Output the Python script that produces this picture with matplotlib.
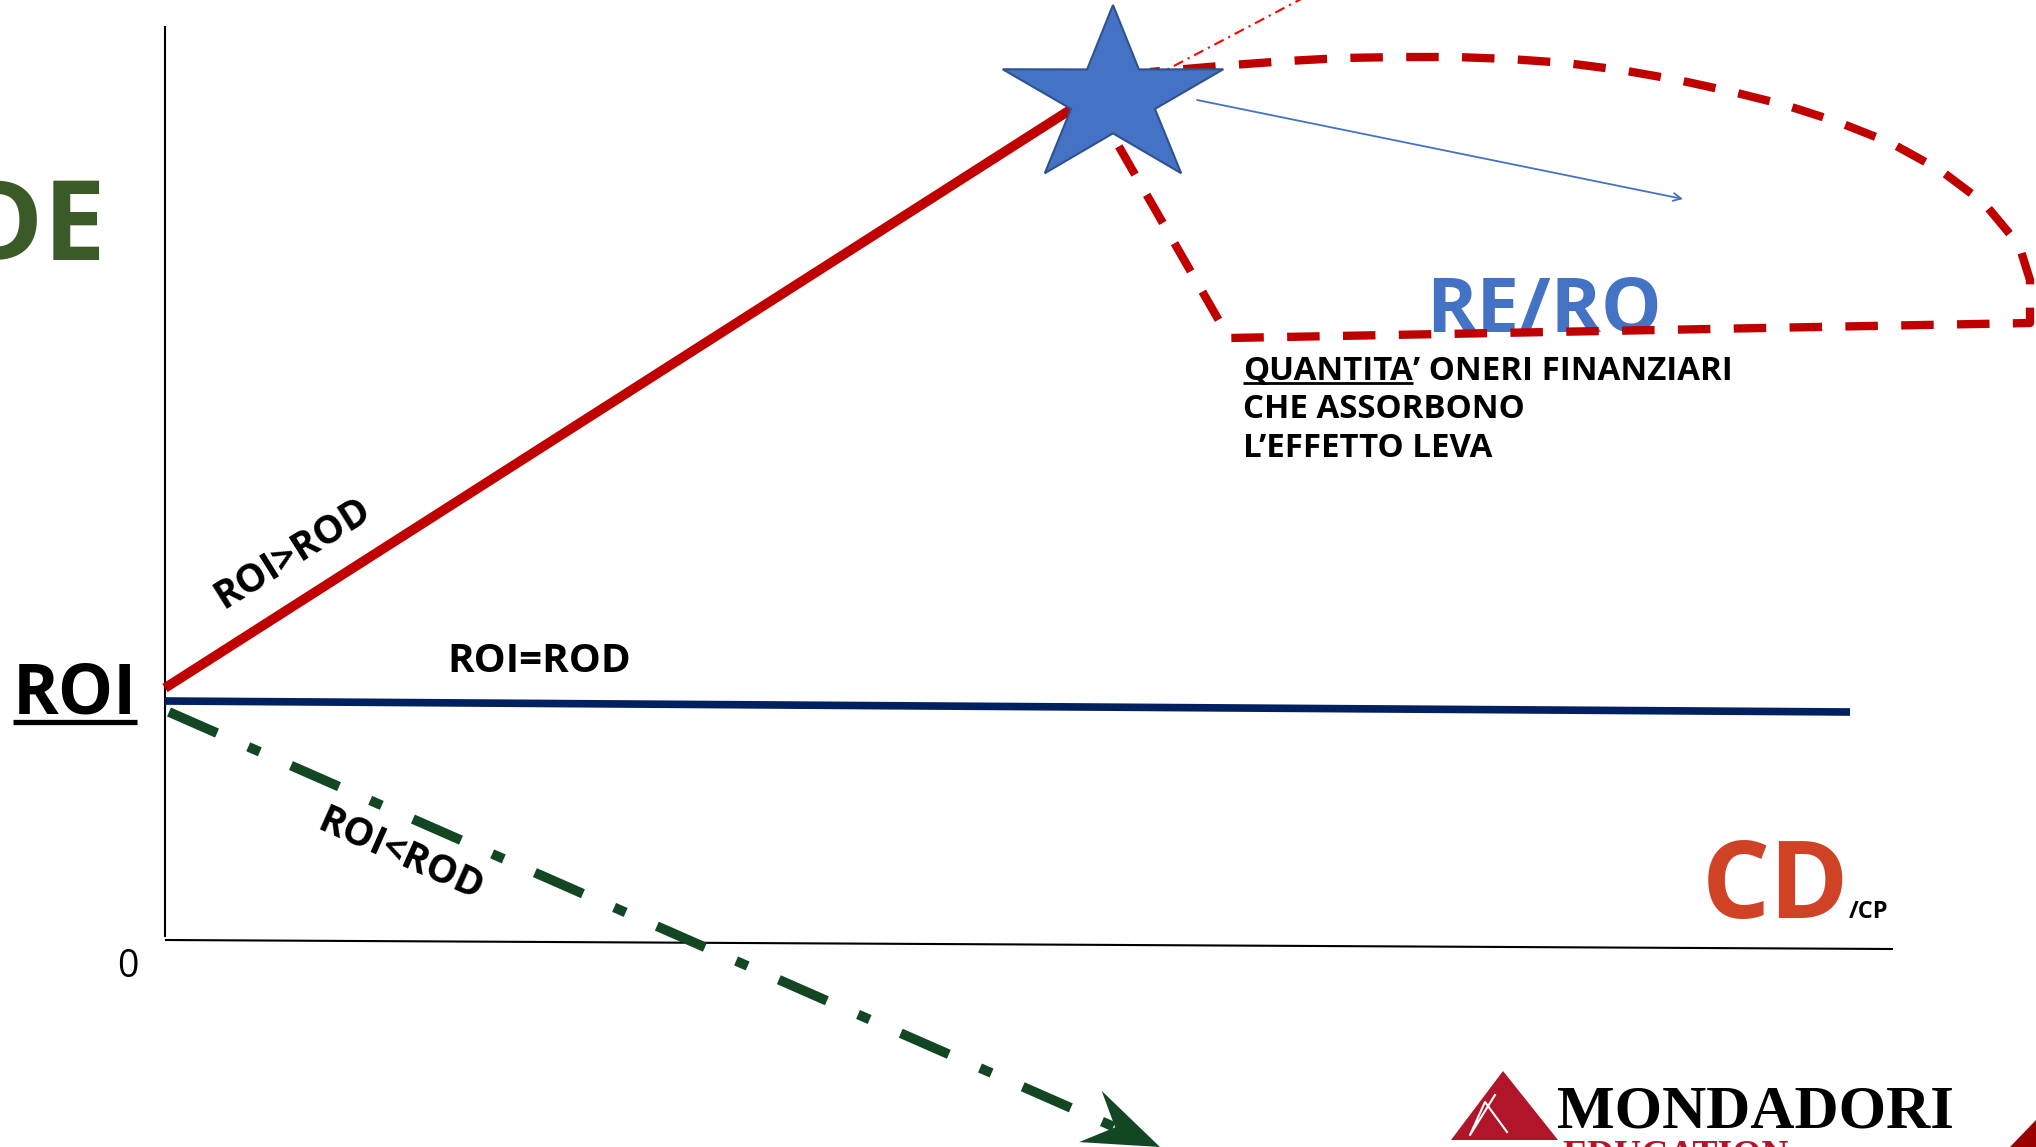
import numpy as np
import matplotlib.pyplot as plt
from matplotlib.patches import Polygon

plt.rcParams['font.family'] = ['Open Sans', 'DejaVu Sans']

# diagram units: x = CD/CP (leverage), y = return; origin where the axes meet
axis_y_x = [0.0, 0.0]
axis_y_y = [9.14, 0.03]
axis_x_x = [0.0, 17.28]
axis_x_y = [0.0, -0.09]

# RE with ROI > ROD (grows with leverage up to the star)
pos_x = [0.0, 9.30]
pos_y = [2.52, 8.46]
# RE with ROI = ROD
eq_x = [0.0, 16.85]
eq_y = [2.39, 2.28]
# RE with ROI < ROD (ends with the arrow tip)
neg_x = [0.04, 9.95]
neg_y = [2.28, -2.07]

# star where the leverage effect is absorbed
star_x, star_y = 9.48, 8.42
star_rx, star_ry, star_inner = 1.16, 0.93, 0.38

# RE/RO zone boundary
zone_x = [9.26, 10.64, 18.65, 18.65, 18.54, 18.19, 17.75, 17.26, 16.73, 16.20,
          15.68, 15.13, 14.56, 14.01, 13.45, 12.90, 12.35, 11.78, 11.22, 10.67, 9.85]
zone_y = [8.42, 6.02, 6.17, 6.60, 6.95, 7.37, 7.70, 7.97, 8.18, 8.35,
          8.48, 8.60, 8.70, 8.77, 8.81, 8.83, 8.83, 8.82, 8.79, 8.75, 8.68]

# thin dash-dot ray leaving the star
ray_x = [9.48, 11.40]
ray_y = [8.42, 9.43]
# blue arrow inside the zone
arr_x = [10.32, 15.18]
arr_y = [8.40, 7.41]

note_lines = ["CHE ASSORBONO", "L\u2019EFFETTO LEVA"]

fig = plt.figure(figsize=(20.36, 11.47), dpi=100)
ax = fig.add_axes([0, 0, 1, 1])
ax.set_xlim(-1.65, 18.71)
ax.set_ylim(-2.07, 9.40)
ax.axis('off')

# axes of the diagram
ax.plot(axis_y_x, axis_y_y, color='black', lw=1.5, solid_capstyle='butt')
ax.plot(axis_x_x, axis_x_y, color='black', lw=1.5, solid_capstyle='butt')

# three RE lines
ax.plot(pos_x, pos_y, color='#C00000', lw=7, solid_capstyle='butt', zorder=3)
ax.plot(eq_x, eq_y, color='#002060', lw=5.5, solid_capstyle='butt', zorder=3)

tip = np.array([neg_x[1], neg_y[1]])
start = np.array([neg_x[0], neg_y[0]])
u = (tip - start) / np.hypot(*(tip - start))
n = np.array([-u[1], u[0]])
head_len, head_w, notch = 0.76, 0.28, 0.27
back = tip - u * head_len
neck = tip - u * (head_len - notch)
ax.plot([start[0], neck[0]], [start[1], neck[1]], color='#134622', lw=7,
        ls=(0, (5.4, 3.5, 1.3, 3.5)), dash_capstyle='butt', zorder=3)
ax.add_patch(Polygon([tip, back + n * head_w, neck, back - n * head_w],
                     closed=True, fc='#134622', ec='none', zorder=3))

# RE/RO zone
ax.plot(zone_x, zone_y, color='#C00000', lw=6, ls=(0, (3.9, 2.8)),
        dash_capstyle='butt', zorder=4)
ax.plot(ray_x, ray_y, color='#FF0000', lw=1.5, ls=(0, (5, 2.5, 1, 2.5)), zorder=4)
ax.annotate('', xy=(arr_x[1], arr_y[1]), xytext=(arr_x[0], arr_y[0]),
            arrowprops=dict(arrowstyle='->', color='#4472C4', lw=1.3,
                            mutation_scale=14, shrinkA=0, shrinkB=0), zorder=4)

# star
ang = np.deg2rad(90 + 36 * np.arange(10))
rad = np.where(np.arange(10) % 2 == 0, 1.0, star_inner)
verts = np.column_stack([star_x + star_rx * rad * np.cos(ang),
                         star_y + star_ry * rad * np.sin(ang)])
ax.add_patch(Polygon(verts, closed=True, fc='#4472C4', ec='#2F528F', lw=1.5, zorder=5))

# texts
ax.text(-0.59, 6.80, 'DE', ha='right', va='baseline', fontsize=80,
        fontweight='bold', color='#3A5A27')
t_roi = ax.text(-0.90, 2.27, 'ROI', ha='center', va='baseline', fontsize=50,
                fontweight='bold', color='black')
ax.text(-0.37, -0.37, '0', ha='center', va='baseline', fontsize=27, color='black')
ax.text(2.82, 2.68, 'ROI=ROD', ha='left', va='baseline', fontsize=29,
        fontweight='bold', color='black')
ax.text(1.28, 3.87, 'ROI>ROD', ha='center', va='center', fontsize=28,
        fontweight='bold', rotation=32, rotation_mode='anchor', color='black')
ax.text(2.36, 0.85, 'ROI<ROD', ha='center', va='center', fontsize=28,
        fontweight='bold', rotation=-24, rotation_mode='anchor', color='black')
ax.text(15.37, 0.22, 'CD', ha='left', va='baseline', fontsize=77,
        fontweight='bold', color='#CF4226')
ax.text(16.84, 0.22, '/CP', ha='left', va='baseline', fontsize=17,
        fontweight='bold', color='black')
ax.text(12.61, 6.09, 'RE/RO', ha='left', va='baseline', fontsize=55,
        fontweight='bold', color='#4472C4', zorder=2)

t_q = ax.text(10.78, 5.60, 'QUANTITA', ha='left', va='baseline', fontsize=23.8,
              fontweight='bold', color='black')
ax.annotate('\u2019 ONERI FINANZIARI', xy=(1, 0), xycoords=t_q, ha='left',
            va='bottom', fontsize=23.8, fontweight='bold', color='black')
for i, line in enumerate(note_lines):
    ax.text(10.78, 5.22 - 0.39 * i, line, ha='left', va='baseline', fontsize=23.8,
            fontweight='bold', color='black')

# publisher logo
ax.add_patch(Polygon([(13.38, -1.31), (12.86, -2.00), (13.93, -2.00)],
                     closed=True, fc='#B0152A', ec='none'))
ax.plot([13.30, 13.05, 13.20, 13.42], [-1.55, -1.95, -1.62, -1.92],
        color='white', lw=1.5)
ax.text(13.92, -1.87, 'MONDADORI', ha='left', va='baseline', fontsize=44,
        fontweight='bold', family='Liberation Serif', color='black')
ax.text(13.97, -1.99, 'EDUCATION', ha='left', va='top', fontsize=27,
        fontweight='bold', family='Liberation Serif', color='#B0152A')
ax.add_patch(Polygon([(18.71, -1.80), (18.45, -2.07), (18.71, -2.07)],
                     closed=True, fc='#9B0000', ec='none'))

# underlines from the rendered text extents
fig.canvas.draw()
inv = ax.transData.inverted()
for t, off, lw in [(t_roi, 0.09, 3.8), (t_q, 0.03, 2.0)]:
    bb = t.get_window_extent()
    (x0, _), (x1, _) = inv.transform([(bb.x0, bb.y0), (bb.x1, bb.y0)])
    y = t.get_position()[1] - off
    ax.plot([x0, x1], [y, y], color='black', lw=lw, solid_capstyle='butt')

fig.savefig('out.png', dpi=100)
